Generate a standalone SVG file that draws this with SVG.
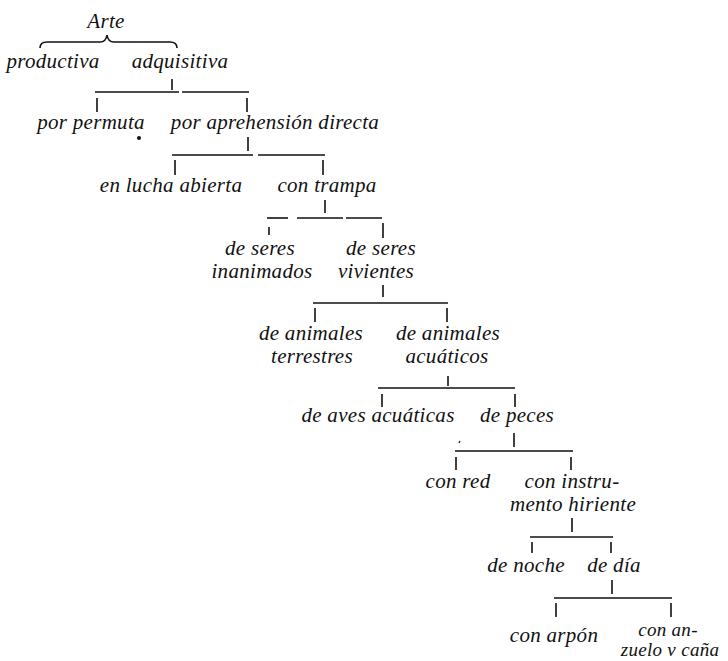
<svg xmlns="http://www.w3.org/2000/svg" width="728" height="661" viewBox="0 0 728 661">
<style>
text{font-family:"Liberation Serif","DejaVu Serif",serif;font-style:italic;font-size:21px;letter-spacing:0.3px;fill:#111;text-anchor:middle}
.c line,.c path{stroke:#111;stroke-width:1.6;fill:none}
.s{font-size:19px}
</style>
<rect width="728" height="661" fill="#fff"/>
<g class="c" id="connectors">
<path d="M40,48 Q40,42 47,42 L100,42 Q106,42 107,35 Q108,42 114,42 L170,42 Q177,42 177,48"/>
<line x1="172" y1="79" x2="172" y2="90"/>
<line x1="95" y1="92" x2="179" y2="92"/>
<line x1="182" y1="92" x2="249" y2="92"/>
<line x1="97" y1="98" x2="97" y2="112"/>
<line x1="247" y1="98" x2="247" y2="112"/>
<line x1="248" y1="137" x2="248" y2="151"/>
<line x1="172" y1="155" x2="253" y2="155"/>
<line x1="258" y1="155" x2="325" y2="155"/>
<line x1="175" y1="160" x2="175" y2="175"/>
<line x1="323" y1="160" x2="323" y2="175"/>
<line x1="325" y1="200" x2="325" y2="213"/>
<line x1="267" y1="218" x2="288" y2="218"/>
<line x1="297" y1="218" x2="343" y2="218"/>
<line x1="346" y1="218" x2="382" y2="218"/>
<line x1="269" y1="227" x2="269" y2="235"/>
<line x1="383" y1="223" x2="383" y2="238"/>
<line x1="383" y1="285" x2="383" y2="297"/>
<line x1="313" y1="303" x2="448" y2="303"/>
<line x1="315" y1="308" x2="315" y2="322"/>
<line x1="447" y1="308" x2="447" y2="322"/>
<line x1="448" y1="376" x2="448" y2="386"/>
<line x1="378" y1="388" x2="515" y2="388"/>
<line x1="382" y1="394" x2="382" y2="407"/>
<line x1="515" y1="394" x2="515" y2="407"/>
<line x1="514" y1="433" x2="514" y2="447"/>
<line x1="455" y1="451" x2="573" y2="451"/>
<line x1="456" y1="457" x2="456" y2="470"/>
<line x1="571" y1="457" x2="571" y2="470"/>
<line x1="572" y1="518" x2="572" y2="532"/>
<line x1="530" y1="537" x2="613" y2="537"/>
<line x1="532" y1="542" x2="532" y2="553"/>
<line x1="611" y1="542" x2="611" y2="553"/>
<line x1="612" y1="580" x2="612" y2="594"/>
<line x1="554" y1="598" x2="672" y2="598"/>
<line x1="556" y1="603" x2="556" y2="617"/>
<line x1="671" y1="603" x2="671" y2="617"/>
</g>
<circle cx="139" cy="138" r="2" fill="#111"/>
<line x1="459" y1="443" x2="460" y2="441" stroke="#111" stroke-width="1.2"/>
<g id="arte"><text x="106" y="28">Arte</text></g>
<g id="productiva"><text x="53" y="68">productiva</text></g>
<g id="adquisitiva"><text x="180" y="68">adquisitiva</text></g>
<g id="permuta"><text x="91" y="129">por permuta</text></g>
<g id="aprehension"><text x="275" y="129">por aprehensión directa</text></g>
<g id="lucha"><text x="171" y="192">en lucha abierta</text></g>
<g id="trampa"><text x="327" y="192">con trampa</text></g>
<g id="inanimados"><text x="260" y="255">de seres</text><text x="262" y="278">inanimados</text></g>
<g id="vivientes"><text x="381" y="255">de seres</text><text x="376" y="278">vivientes</text></g>
<g id="terrestres"><text x="311" y="340">de animales</text><text x="312" y="363">terrestres</text></g>
<g id="acuaticos"><text x="448" y="340">de animales</text><text x="447" y="363">acuáticos</text></g>
<g id="aves"><text x="378" y="422">de aves acuáticas</text></g>
<g id="peces"><text x="517" y="422">de peces</text></g>
<g id="red"><text x="458" y="488">con red</text></g>
<g id="hiriente"><text x="572" y="488">con instru-</text><text x="573" y="511">mento hiriente</text></g>
<g id="noche"><text x="526" y="572">de noche</text></g>
<g id="dia"><text x="614" y="572">de día</text></g>
<g id="arpon"><text x="554" y="642">con arpón</text></g>
<g id="anzuelo"><text class="s" x="668" y="636">con  an-</text><text class="s" x="670" y="656">zuelo v caña</text></g>
</svg>
